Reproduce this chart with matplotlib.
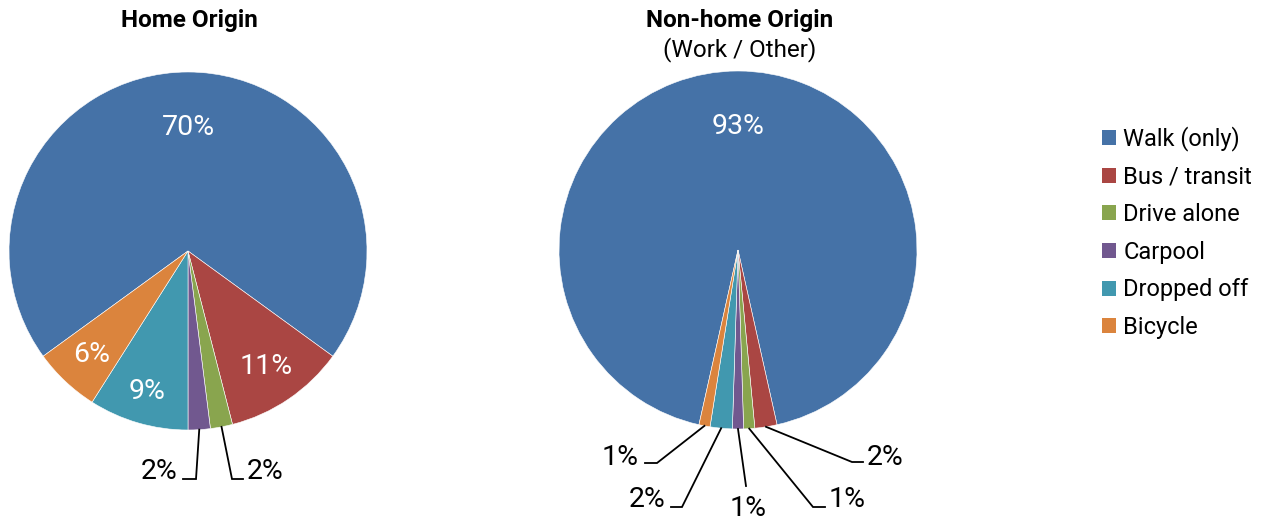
import numpy as np
import matplotlib
matplotlib.use('Agg')
import matplotlib.pyplot as plt
from matplotlib.patches import Patch

W, H = 1270, 520

modes = ['Walk (only)', 'Bus / transit', 'Drive alone', 'Carpool', 'Dropped off', 'Bicycle']
home_pct = [70, 11, 2, 2, 9, 6]
nonhome_pct = [93, 2, 1, 1, 2, 1]
colors = ['#4572A7', '#AA4643', '#89A54E', '#71588F', '#4198AF', '#DB843D']

plt.rcParams['font.family'] = ['Roboto', 'DejaVu Sans']

# pie placement in image pixels (y down)
R = 179
home_center = (188, 251)
nonhome_center = (738, 250)

# inside labels: index -> radial fraction
home_inside = {0: 0.69, 1: 0.78, 4: 0.82, 5: 0.79}
nonhome_inside = {0: 0.69}

# outside labels: index -> (elbow x, elbow y, line end x, text x, text baseline y, ha)
home_outside = {
    3: (196, 479, 183, 178, 479, 'right'),
    2: (232, 479, 243, 247, 479, 'left'),
}
nonhome_outside = {
    5: (657, 463, 645, 639, 465, 'right'),
    4: (682, 507, 671, 666, 507, 'right'),
    3: (746, 486, 746, 748, 516, 'center'),
    2: (813, 507, 825, 829, 507, 'left'),
    1: (852, 462, 863, 867, 465, 'left'),
}

LABEL_SIZE = 20.5

fig = plt.figure(figsize=(W / 100, H / 100), dpi=100)
ax = fig.add_axes([0, 0, 1, 1])


def draw_pie(vals, center, inside, outside):
    cx, cy = center[0], H - center[1]
    start = 90 + 0.5 * vals[0] / sum(vals) * 360
    wedges, _ = ax.pie(vals, colors=colors, startangle=start, counterclock=False,
                       center=(cx, cy), radius=R,
                       wedgeprops=dict(edgecolor='white', linewidth=0.4))
    for i, w in enumerate(wedges):
        mid = np.deg2rad((w.theta1 + w.theta2) / 2)
        if i in inside:
            f = inside[i]
            ax.text(cx + f * R * np.cos(mid), cy + f * R * np.sin(mid),
                    '%d%%' % vals[i], color='white', fontsize=LABEL_SIZE,
                    ha='center', va='center')
        elif i in outside:
            ex, ey, lx, tx, ty, ha = outside[i]
            x0 = cx + R * np.cos(mid)
            y0 = cy + R * np.sin(mid)
            ax.plot([x0, ex, lx], [y0, H - ey, H - ey], color='black', lw=1.3,
                    solid_joinstyle='miter')
            ax.text(tx, H - ty, '%d%%' % vals[i], color='black', fontsize=LABEL_SIZE,
                    ha=ha, va='baseline')


draw_pie(home_pct, home_center, home_inside, home_outside)
draw_pie(nonhome_pct, nonhome_center, nonhome_inside, nonhome_outside)

ax.text(189, H - 21, 'Home Origin', fontsize=17.5, fontweight='bold', ha='center', va='center')
ax.text(740, H - 20, 'Non-home Origin', fontsize=17.5, fontweight='bold', ha='center', va='center')
ax.text(740, H - 50, '(Work / Other)', fontsize=17.5, ha='center', va='center')

ax.set_xlim(0, W)
ax.set_ylim(0, H)
ax.set_aspect('auto')
ax.axis('off')

handles = [Patch(facecolor=c, label=m) for c, m in zip(colors, modes)]
fig.legend(handles=handles, loc='upper left', bbox_to_anchor=(1102 / W, 1 - 126 / H),
           frameon=False, fontsize=17, borderpad=0, borderaxespad=0,
           handlelength=0.6, handleheight=0.6, handletextpad=0.3, labelspacing=0.62)

plt.savefig('out.png', dpi=100)
plt.close('all')
